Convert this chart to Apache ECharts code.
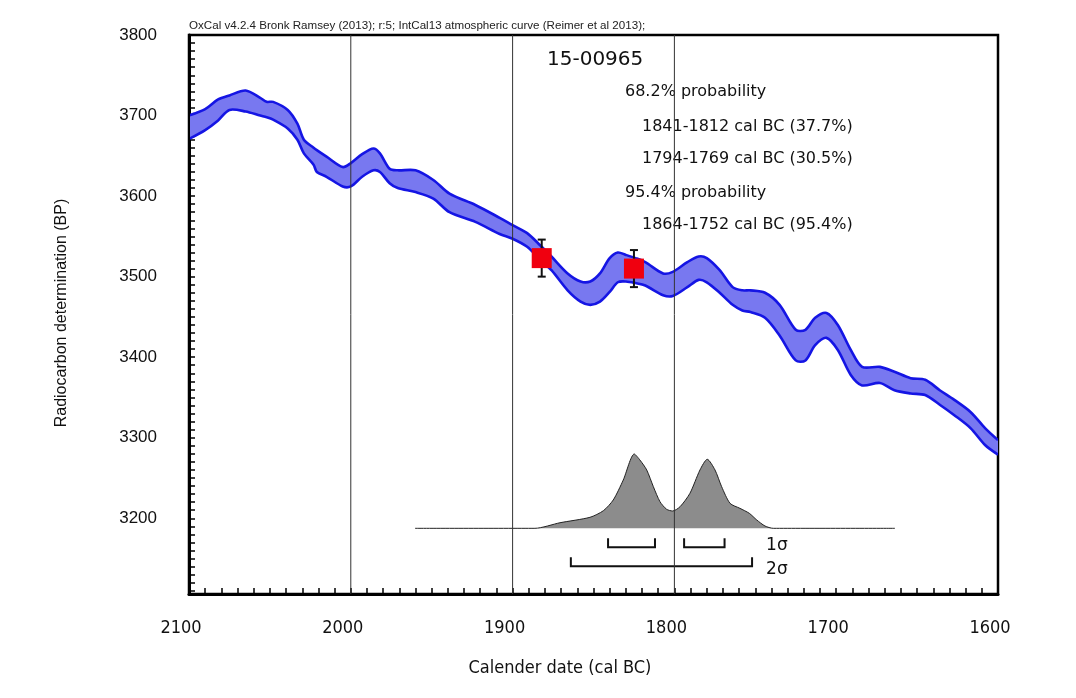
<!DOCTYPE html>
<html><head><meta charset="utf-8">
<script src="https://cdn.jsdelivr.net/npm/echarts@6/dist/echarts.min.js"></script>
<style>html,body{margin:0;padding:0;background:#fff}#c{width:1076px;height:698px}</style>
</head><body><div id="c"></div>
<script>
// ---- data ----
const curveYears = [2100,2090,2082,2075,2065,2056,2052,2048,2039,2033,2029,2023,2021,2015,2005,2000,1993,1986,1982,1976,1971,1960,1949,1939,1923,1908,1900,1891,1883,1876,1866,1858,1852,1846,1840,1835,1830,1824,1818,1807,1801,1792,1785,1780,1772,1764,1758,1753,1744,1735,1725,1719,1713,1706,1699,1691,1684,1673,1664,1654,1645,1636,1627,1617,1608,1600];
const curveUpper = [3700,3708,3720,3725,3731,3722,3717,3717,3707,3690,3670,3660,3657,3649,3636,3641,3652,3659,3653,3634,3632,3632,3620,3603,3589,3573,3564,3554,3539,3525,3504,3494,3494,3504,3523,3530,3527,3523,3518,3504,3506,3518,3525,3523,3508,3487,3483,3483,3480,3465,3434,3434,3449,3455,3440,3409,3388,3388,3382,3374,3372,3359,3347,3332,3312,3297];
const curveLower = [3671,3682,3694,3707,3705,3700,3698,3695,3684,3670,3653,3639,3630,3624,3612,3612,3624,3632,3630,3616,3610,3605,3597,3580,3568,3553,3547,3537,3521,3508,3483,3469,3465,3469,3481,3493,3494,3492,3489,3477,3476,3487,3496,3493,3480,3465,3458,3456,3449,3427,3396,3396,3415,3424,3409,3378,3365,3368,3359,3355,3353,3341,3328,3312,3291,3279];

const sampleYears = [1882, 1825];
const sampleBP = [3523, 3510];
const sampleErr = [23, 23];

const probYears = [1960.3,1886.2,1870.7,1852.2,1843.9,1837.8,1831.6,1824.8,1821.3,1817.1,1813,1808.9,1804.8,1801.1,1796.5,1790.4,1784.2,1779.7,1774.9,1770.8,1765.6,1759.5,1753.7,1749.1,1744,1738.9,1663.7];
const probValues = [0,0,0.075,0.148,0.237,0.381,0.65,1.0,0.919,0.785,0.56,0.358,0.256,0.233,0.291,0.471,0.785,0.929,0.785,0.56,0.336,0.269,0.202,0.112,0.031,0,0];

const sigma1Ranges = [[1841,1812],[1794,1769]];
const sigma2Ranges = [[1864,1752]];
const sigmaLabels = ['1σ','2σ'];

const refLineYears = [2000, 1900, 1800];
const xLabelValues = [2100, 2000, 1900, 1800, 1700, 1600];
const yLabelValues = [3200, 3300, 3400, 3500, 3600, 3700, 3800];
const xTickValues = []; for (let v = 1610; v <= 2090; v += 10) xTickValues.push(v);
const yTickValues = []; for (let v = 3110; v <= 3790; v += 10) yTickValues.push(v);

const sampleName = '15-00965';
const infoText = 'OxCal v4.2.4 Bronk Ramsey (2013); r:5; IntCal13 atmospheric curve (Reimer et al 2013);';
const resultLines = [
  ['68.2% probability', 0],
  ['1841-1812 cal BC (37.7%)', 1],
  ['1794-1769 cal BC (30.5%)', 1],
  ['95.4% probability', 0],
  ['1864-1752 cal BC (95.4%)', 1]
];
const xTitle = 'Calender date (cal BC)';
const yTitle = 'Radiocarbon determination (BP)';

// ---- chart ----
const chart = echarts.init(document.getElementById('c'), null, {renderer: 'canvas'});
const narrow = '"Liberation Sans Narrow","DejaVu Sans Condensed","Arial Narrow",sans-serif';
const sans = '"Liberation Sans",Arial,sans-serif';
const jp = '"DejaVu Sans",sans-serif';

const sigmaData = sigma1Ranges.map(r => [r[0], r[1], 1]).concat(sigma2Ranges.map(r => [r[0], r[1], 2]));
const resultY = [92, 127, 159, 193, 225];
const SMOOTH = 0.3;

const option = {
  animation: false,
  backgroundColor: '#fff',
  grid: {left: 189, right: 78, top: 35, bottom: 104, show: true, borderColor: '#000', borderWidth: 2.5, backgroundColor: 'transparent'},
  xAxis: {
    type: 'value', min: 1600, max: 2100, inverse: true,
    axisLine: {show: true, onZero: false, lineStyle: {color: '#000', width: 3}},
    axisTick: {show: true, inside: true, length: 6, customValues: xTickValues, lineStyle: {color: '#000', width: 1.5}},
    axisLabel: {customValues: xLabelValues, formatter: v => String(v), margin: 25, color: '#111', fontSize: 18, fontFamily: narrow, padding: [0, 16, 0, 0]},
    splitLine: {show: false}
  },
  yAxis: [{
    type: 'value', min: 3106, max: 3800,
    axisLine: {show: true, onZero: false, lineStyle: {color: '#000', width: 3}},
    axisTick: {show: true, inside: true, length: 6, customValues: yTickValues, lineStyle: {color: '#000', width: 1.5}},
    axisLabel: {customValues: yLabelValues, formatter: v => String(v), margin: 32, color: '#111', fontSize: 17, fontFamily: sans, padding: [6, 0, 0, 0]},
    splitLine: {show: false}
  }, {
    type: 'value', min: -0.884, max: 6.639, show: false,
    splitLine: {show: false}
  }],
  graphic: [
    {type: 'text', left: 189, top: 20, style: {text: infoText, font: '11.6px ' + sans, fill: '#222'}},
    {type: 'text', left: 547, top: 50, style: {text: sampleName, font: '20px ' + jp, fill: '#111'}},
    ...resultLines.map((r, i) => ({type: 'text', x: r[1] ? 642 : 625, y: resultY[i], style: {text: r[0], font: '16px ' + jp, fill: '#111', verticalAlign: 'middle'}})),
    {type: 'text', x: 560, y: 668, style: {text: xTitle, font: '18px ' + narrow, fill: '#111', align: 'center', verticalAlign: 'middle'}},
    {type: 'text', x: 62, y: 313, rotation: Math.PI / 2, style: {text: yTitle, font: '16px ' + sans, fill: '#111', align: 'center', verticalAlign: 'middle'}}
  ],
  series: [
    {
      // calibration curve band: fill + both edges, clipped to the plot area
      type: 'custom', z: 2, silent: true,
      data: [[curveYears[0], curveUpper[0]]],
      renderItem: function (params, api) {
        const cs = params.coordSys;
        const up = curveYears.map((y, i) => api.coord([y, curveUpper[i]]));
        const lo = curveYears.map((y, i) => api.coord([y, curveLower[i]]));
        const edge = {stroke: '#1515e4', lineWidth: 2.6, fill: null, lineJoin: 'round'};
        return {type: 'group',
          clipPath: {type: 'rect', shape: {x: cs.x + 1, y: cs.y, width: cs.width - 1, height: cs.height}},
          children: [
            {type: 'polygon', shape: {points: up.concat(lo.slice().reverse()), smooth: SMOOTH}, style: {fill: '#7878f0', stroke: null}},
            {type: 'polyline', shape: {points: up, smooth: SMOOTH}, style: edge},
            {type: 'polyline', shape: {points: lo, smooth: SMOOTH}, style: edge}
          ]};
      }
    },
    {
      type: 'line', z: 4, yAxisIndex: 1, symbol: 'none', silent: true, smooth: 0.25,
      data: probYears.map((y, i) => [y, probValues[i]]),
      lineStyle: {color: '#222', width: 1},
      areaStyle: {color: '#8c8c8c', opacity: 1}
    },
    {
      type: 'custom', z: 4, yAxisIndex: 1, silent: true,
      data: sigmaData,
      renderItem: function (params, api) {
        const a = api.coord([api.value(0), 0]);
        const b = api.coord([api.value(1), 0]);
        const lvl = api.value(2);
        const y = a[1] + 19 * lvl;
        const h = 9;
        return {type: 'polyline', shape: {points: [[a[0], y - h], [a[0], y], [b[0], y], [b[0], y - h]]}, style: {stroke: '#111', lineWidth: 2, fill: null}};
      }
    },
    {
      type: 'custom', z: 4, yAxisIndex: 1, silent: true,
      data: sigmaLabels.map((t, i) => [sigma2Ranges[0][1], i + 1]),
      renderItem: function (params, api) {
        const p = api.coord([api.value(0), 0]);
        const lvl = api.value(1);
        return {type: 'text', x: p[0] + 14, y: p[1] + 19 * lvl + (lvl === 1 ? -2 : 3), style: {text: sigmaLabels[params.dataIndex], font: '17px ' + jp, fill: '#111', verticalAlign: 'middle'}};
      }
    },
    {
      type: 'custom', z: 5, silent: true,
      data: sampleYears.map((y, i) => [y, sampleBP[i], sampleErr[i]]),
      renderItem: function (params, api) {
        const t = api.coord([api.value(0), api.value(1) + api.value(2)]);
        const b = api.coord([api.value(0), api.value(1) - api.value(2)]);
        const w = 4;
        const st = {stroke: '#111', lineWidth: 2};
        return {type: 'group', children: [
          {type: 'line', shape: {x1: t[0], y1: t[1], x2: b[0], y2: b[1]}, style: st},
          {type: 'line', shape: {x1: t[0] - w, y1: t[1], x2: t[0] + w, y2: t[1]}, style: st},
          {type: 'line', shape: {x1: b[0] - w, y1: b[1], x2: b[0] + w, y2: b[1]}, style: st}
        ]};
      }
    },
    {
      type: 'scatter', z: 6, silent: true, symbol: 'rect', symbolSize: 20,
      data: sampleYears.map((y, i) => [y, sampleBP[i]]),
      itemStyle: {color: '#f0000f', opacity: 1}
    },
    {
      // vertical reference lines, drawn on top
      type: 'custom', z: 7, silent: true,
      data: refLineYears.map(v => [v]),
      renderItem: function (params, api) {
        const x = api.coord([api.value(0), 3800])[0];
        const cs = params.coordSys;
        return {type: 'line', shape: {x1: x, y1: cs.y, x2: x, y2: cs.y + cs.height}, style: {stroke: '#333', lineWidth: 1}};
      }
    }
  ]
};
chart.setOption(option);
</script>
</body></html>
